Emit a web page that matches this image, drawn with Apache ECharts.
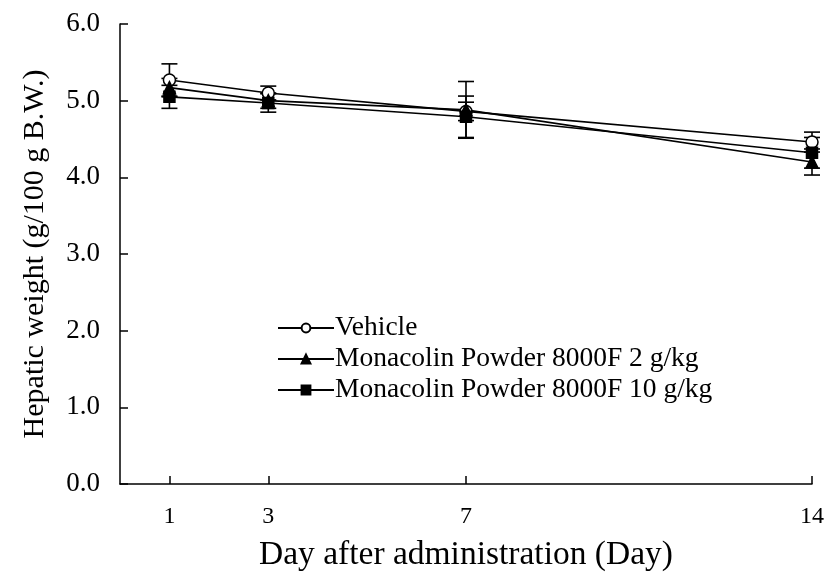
<!DOCTYPE html>
<html>
<head>
<meta charset="utf-8">
<script src="https://cdn.jsdelivr.net/npm/echarts@6/dist/echarts.min.js"></script>
<style>html,body{margin:0;padding:0;background:#fff}#c{width:829px;height:581px}</style>
</head>
<body>
<div id="c"></div>
<script>
var days = [1, 3, 7, 14];
var seriesNames = ['Vehicle', 'Monacolin Powder 8000F 2 g/kg', 'Monacolin Powder 8000F 10 g/kg'];
var vehicle = [5.27, 5.10, 4.86, 4.46];
var vehicleErr = [0.21, 0.09, 0.12, 0.13];
var mp2 = [5.17, 5.00, 4.88, 4.20];
var mp2Err = [0.12, 0.10, 0.37, 0.17];
var mp10 = [5.05, 4.97, 4.79, 4.32];
var mp10Err = [0.15, 0.12, 0.27, 0.20];
var yTicks = [0, 1, 2, 3, 4, 5, 6];

var FONT = 'Liberation Serif';
var chart = echarts.init(document.getElementById('c'));

function pairs(vals) { return days.map(function (d, i) { return [d, vals[i]]; }); }
function errData(vals, errs) { return days.map(function (d, i) { return [d, vals[i], errs[i]]; }); }

function errSeries(vals, errs) {
  return {
    type: 'custom',
    data: errData(vals, errs),
    z: 1,
    silent: true,
    renderItem: function (params, api) {
      var x = api.value(0), y = api.value(1), e = api.value(2);
      var top = api.coord([x, y + e]);
      var bot = api.coord([x, y - e]);
      var hw = 8;
      var st = { stroke: '#000', lineWidth: 1.6 };
      return {
        type: 'group',
        children: [
          { type: 'line', shape: { x1: top[0], y1: top[1], x2: bot[0], y2: bot[1] }, style: st },
          { type: 'line', shape: { x1: top[0] - hw, y1: top[1], x2: top[0] + hw, y2: top[1] }, style: st },
          { type: 'line', shape: { x1: bot[0] - hw, y1: bot[1], x2: bot[0] + hw, y2: bot[1] }, style: st }
        ]
      };
    }
  };
}

function lineSeries(name, vals, symbol, size, fill) {
  return {
    name: name,
    type: 'line',
    data: pairs(vals),
    symbol: symbol,
    symbolSize: size,
    showAllSymbol: true,
    z: 3,
    lineStyle: { color: '#000', width: 1.6 },
    itemStyle: { color: fill, borderColor: '#000', borderWidth: 1.5 },
    emphasis: { disabled: true }
  };
}

chart.setOption({
  animation: false,
  backgroundColor: '#fff',
  grid: { left: 120, right: 17, top: 24, bottom: 97 },
  legend: {
    left: 272,
    top: 309,
    orient: 'vertical',
    itemGap: 3,
    itemWidth: 56,
    itemHeight: 11,
    textStyle: { fontFamily: FONT, fontSize: 27.5, color: '#000', padding: [0, 0, 0, -4] },
    data: seriesNames
  },
  xAxis: {
    type: 'value',
    min: 0,
    max: 14,
    name: 'Day after administration (Day)',
    nameLocation: 'middle',
    nameGap: 54,
    nameTextStyle: { fontFamily: FONT, fontSize: 33.5, color: '#000' },
    axisLine: { lineStyle: { color: '#000', width: 1.5 } },
    axisTick: { inside: true, length: 8, customValues: days, lineStyle: { color: '#000', width: 1.5 } },
    axisLabel: { customValues: days, fontFamily: FONT, fontSize: 24, color: '#000', margin: 21 },
    splitLine: { show: false }
  },
  yAxis: {
    type: 'value',
    min: 0,
    max: 6,
    interval: 1,
    name: 'Hepatic weight (g/100 g B.W.)',
    nameLocation: 'middle',
    nameGap: 70,
    nameTextStyle: { fontFamily: FONT, fontSize: 30, color: '#000' },
    axisLine: { show: true, lineStyle: { color: '#000', width: 1.5 } },
    axisTick: { show: true, inside: true, length: 8, lineStyle: { color: '#000', width: 1.5 } },
    axisLabel: {
      fontFamily: FONT, fontSize: 27, color: '#000', margin: 20,
      formatter: function (v) { return v.toFixed(1); }
    },
    splitLine: { show: false }
  },
  series: [
    errSeries(vehicle, vehicleErr),
    errSeries(mp2, mp2Err),
    errSeries(mp10, mp10Err),
    lineSeries(seriesNames[0], vehicle, 'circle', 12, '#fff'),
    lineSeries(seriesNames[1], mp2, 'triangle', 12, '#000'),
    lineSeries(seriesNames[2], mp10, 'rect', 11, '#000')
  ]
});
</script>
</body>
</html>
